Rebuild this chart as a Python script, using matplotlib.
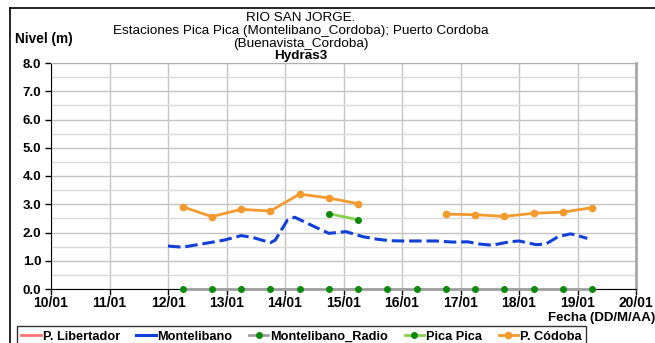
import matplotlib
matplotlib.use('Agg')
import matplotlib.pyplot as plt
import matplotlib.dates as mdates
from matplotlib.lines import Line2D
import numpy as np
import pandas as pd

plt.rcParams['font.family'] = ['Liberation Sans', 'DejaVu Sans']
plt.rcParams['lines.scale_dashes'] = False

# Lecturas cada 12 h (Pica Pica, Montelibano_Radio, P. Córdoba)
fechas = pd.to_datetime([
    '2011-01-12 06:00', '2011-01-12 18:00', '2011-01-13 06:00', '2011-01-13 18:00',
    '2011-01-14 06:00', '2011-01-14 18:00', '2011-01-15 06:00', '2011-01-15 18:00',
    '2011-01-16 06:00', '2011-01-16 18:00', '2011-01-17 06:00', '2011-01-17 18:00',
    '2011-01-18 06:00', '2011-01-18 18:00', '2011-01-19 06:00',
])
nan = np.nan
p_cordoba = [2.91, 2.56, 2.82, 2.76, 3.36, 3.22, 3.02, nan, nan,
             2.65, 2.63, 2.57, 2.68, 2.72, 2.88]
pica_pica = [nan, nan, nan, nan, nan, 2.67, 2.45, nan, nan,
             nan, nan, nan, nan, nan, nan]
montelibano_radio = [0.0] * 15
p_libertador = [nan] * 15

# Montelibano (Hydras3, registro horario)
fechas_monte = pd.to_datetime([
    '2011-01-12 00:00', '2011-01-12 06:00', '2011-01-12 17:00', '2011-01-12 23:00',
    '2011-01-13 06:00', '2011-01-13 11:00', '2011-01-13 18:00', '2011-01-13 20:00',
    '2011-01-14 01:00', '2011-01-14 04:00', '2011-01-14 12:00', '2011-01-14 18:00',
    '2011-01-15 01:00', '2011-01-15 08:00', '2011-01-15 14:00', '2011-01-15 19:00',
    '2011-01-16 00:00', '2011-01-16 14:00', '2011-01-16 21:00', '2011-01-17 03:00',
    '2011-01-17 08:00', '2011-01-17 13:00', '2011-01-17 20:00', '2011-01-18 00:00',
    '2011-01-18 07:00', '2011-01-18 11:00', '2011-01-18 16:00', '2011-01-18 21:00',
    '2011-01-18 23:00', '2011-01-19 04:00',
])
montelibano = [1.52, 1.48, 1.64, 1.73, 1.89, 1.82, 1.64, 1.73,
               2.44, 2.54, 2.21, 1.97, 2.03, 1.85, 1.76, 1.71,
               1.70, 1.70, 1.66, 1.67, 1.59, 1.55, 1.67, 1.70,
               1.57, 1.59, 1.85, 1.95, 1.92, 1.79]

c_lib = '#FF7373'
c_monte = '#1140D8'
c_radio = '#A0A0A0'
c_pica = '#8CD050'
c_verde = '#0A8A0A'
c_cord = '#F29A2E'

W, H = 655, 343
fig = plt.figure(figsize=(W / 100, H / 100), dpi=100)
ax = fig.add_axes([51/W, 1 - 289/H, 585/W, 226/H])

ax.plot(fechas, p_libertador, color=c_lib, lw=2, label='P. Libertador')
ax.plot(fechas_monte, montelibano, color=c_monte, lw=2.2, dashes=(9, 3.5),
        label='Montelibano')
ax.plot(fechas, montelibano_radio, color=c_radio, lw=2, marker='o', ms=4,
        mfc=c_verde, mec=c_verde, clip_on=False, zorder=5, label='Montelibano_Radio')
ax.plot(fechas, pica_pica, color=c_pica, lw=2, marker='o', ms=4,
        mfc=c_verde, mec=c_verde, label='Pica Pica')
ax.plot(fechas, p_cordoba, color=c_cord, lw=2, marker='o', ms=4.5,
        mfc=c_cord, mec=c_cord, label='P. Códoba')

ax.set_xlim(pd.Timestamp('2011-01-10'), pd.Timestamp('2011-01-20'))
ax.set_ylim(0, 8)
ax.xaxis.set_major_locator(mdates.DayLocator())
ax.xaxis.set_major_formatter(mdates.DateFormatter('%d/%m'))
ax.set_yticks(np.arange(0, 8.1, 1.0))
ax.set_yticks(np.arange(0.5, 8, 1.0), minor=True)
ax.yaxis.set_major_formatter(matplotlib.ticker.FormatStrFormatter('%.1f'))

ax.grid(which='major', color='#C4C4C4', lw=1)
ax.grid(which='minor', axis='y', color='#DADADA', lw=1)
ax.set_axisbelow(True)
ax.tick_params(axis='both', which='major', direction='out', length=4, width=1)
ax.tick_params(axis='x', labelsize=10, pad=1)
ax.tick_params(axis='y', labelsize=9.5, pad=3)
ax.tick_params(axis='y', which='minor', length=0)
for lab in ax.get_xticklabels() + ax.get_yticklabels():
    lab.set_fontweight('bold')

ax.spines['left'].set_color('black')
ax.spines['bottom'].set_color('black')
ax.spines['top'].set_color('#B0B0B0')
ax.spines['right'].set_color('#A8A8A8')
ax.spines['right'].set_linewidth(2)

# Títulos
tx = 301 / W
fig.text(tx, 1 - 18/H, 'RIO SAN JORGE.', ha='center', va='center', fontsize=9.7)
fig.text(tx, 1 - 31/H, 'Estaciones Pica Pica (Montelibano_Cordoba); Puerto Cordoba',
         ha='center', va='center', fontsize=9.7)
fig.text(tx, 1 - 44/H, '(Buenavista_Cordoba)', ha='center', va='center', fontsize=9.7)
fig.text(tx, 1 - 56/H, 'Hydras3', ha='center', va='center', fontsize=9.7,
         fontweight='bold')
fig.text(15/W, 1 - 39/H, 'Nivel (m)', ha='left', va='center', fontsize=9.8,
         fontweight='bold')
fig.text(1.0, 1 - 318/H, 'Fecha (DD/M/AA)', ha='right', va='center', fontsize=9.5,
         fontweight='bold')

# Marco del gráfico
fig.add_artist(Line2D([10/W, 10/W], [0, 1 - 8/H], color='black', lw=1.2,
                      transform=fig.transFigure))
fig.add_artist(Line2D([10/W, 1], [1 - 8/H, 1 - 8/H], color='black', lw=1.2,
                      transform=fig.transFigure))

handles, labels = ax.get_legend_handles_labels()
leg = fig.legend(handles, labels, loc='lower left', bbox_to_anchor=(17/W, -4/H),
                 ncol=5, frameon=True, fancybox=False, edgecolor='black',
                 prop={'weight': 'bold', 'size': 9.2}, handlelength=1.5,
                 handletextpad=0.15, columnspacing=1.3, borderpad=0.35,
                 borderaxespad=0)
leg.get_frame().set_linewidth(1)
for h in leg.get_lines():
    h.set_linestyle('-')

fig.savefig('out.png', dpi=100, facecolor='white')
